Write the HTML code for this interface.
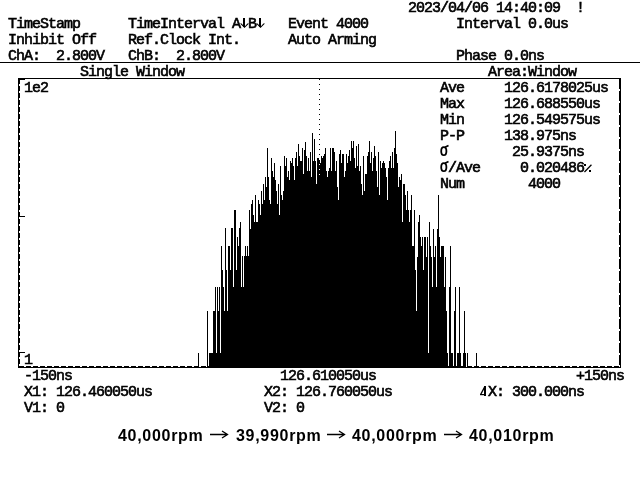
<!DOCTYPE html>
<html><head><meta charset="utf-8"><style>
html,body{margin:0;padding:0;background:#fff;width:640px;height:480px;overflow:hidden;position:relative}
.t{position:absolute;font-family:"Liberation Mono",monospace;font-weight:normal;-webkit-text-stroke:0.6px #000;will-change:transform;font-size:15px;line-height:16px;letter-spacing:-1px;white-space:pre;color:#000}
.foot{position:absolute;top:426px;font-family:"Liberation Sans",sans-serif;font-weight:bold;will-change:transform;font-size:16px;line-height:20px;letter-spacing:0.7px;white-space:pre;color:#000}
svg{position:absolute;left:0;top:0}
</style></head><body>
<svg width="640" height="480" viewBox="0 0 640 480" shape-rendering="crispEdges">
<rect x="0" y="62" width="640" height="1" fill="#000"/>
<rect x="18" y="78" width="603" height="1" fill="#000"/>
<rect x="18" y="78" width="2" height="290" fill="#000"/>
<rect x="619" y="78" width="2" height="290" fill="#000"/>
<rect x="18" y="366" width="603" height="2" fill="#000"/>
<rect x="24" y="366" width="2" height="1" fill="#fff"/><rect x="31" y="366" width="2" height="1" fill="#fff"/><rect x="38" y="366" width="2" height="1" fill="#fff"/><rect x="45" y="366" width="2" height="1" fill="#fff"/><rect x="52" y="366" width="2" height="1" fill="#fff"/><rect x="59" y="366" width="2" height="1" fill="#fff"/><rect x="66" y="366" width="2" height="1" fill="#fff"/><rect x="73" y="366" width="2" height="1" fill="#fff"/><rect x="80" y="366" width="2" height="1" fill="#fff"/><rect x="87" y="366" width="2" height="1" fill="#fff"/><rect x="94" y="366" width="2" height="1" fill="#fff"/><rect x="101" y="366" width="2" height="1" fill="#fff"/><rect x="108" y="366" width="2" height="1" fill="#fff"/><rect x="115" y="366" width="2" height="1" fill="#fff"/><rect x="122" y="366" width="2" height="1" fill="#fff"/><rect x="129" y="366" width="2" height="1" fill="#fff"/><rect x="136" y="366" width="2" height="1" fill="#fff"/><rect x="143" y="366" width="2" height="1" fill="#fff"/><rect x="150" y="366" width="2" height="1" fill="#fff"/><rect x="157" y="366" width="2" height="1" fill="#fff"/><rect x="164" y="366" width="2" height="1" fill="#fff"/><rect x="171" y="366" width="2" height="1" fill="#fff"/><rect x="178" y="366" width="2" height="1" fill="#fff"/><rect x="185" y="366" width="2" height="1" fill="#fff"/><rect x="192" y="366" width="2" height="1" fill="#fff"/><rect x="199" y="366" width="2" height="1" fill="#fff"/><rect x="206" y="366" width="2" height="1" fill="#fff"/><rect x="213" y="366" width="2" height="1" fill="#fff"/><rect x="220" y="366" width="2" height="1" fill="#fff"/><rect x="227" y="366" width="2" height="1" fill="#fff"/><rect x="234" y="366" width="2" height="1" fill="#fff"/><rect x="241" y="366" width="2" height="1" fill="#fff"/><rect x="248" y="366" width="2" height="1" fill="#fff"/><rect x="255" y="366" width="2" height="1" fill="#fff"/><rect x="262" y="366" width="2" height="1" fill="#fff"/><rect x="269" y="366" width="2" height="1" fill="#fff"/><rect x="276" y="366" width="2" height="1" fill="#fff"/><rect x="283" y="366" width="2" height="1" fill="#fff"/><rect x="290" y="366" width="2" height="1" fill="#fff"/><rect x="297" y="366" width="2" height="1" fill="#fff"/><rect x="304" y="366" width="2" height="1" fill="#fff"/><rect x="311" y="366" width="2" height="1" fill="#fff"/><rect x="318" y="366" width="2" height="1" fill="#fff"/><rect x="325" y="366" width="2" height="1" fill="#fff"/><rect x="332" y="366" width="2" height="1" fill="#fff"/><rect x="339" y="366" width="2" height="1" fill="#fff"/><rect x="346" y="366" width="2" height="1" fill="#fff"/><rect x="353" y="366" width="2" height="1" fill="#fff"/><rect x="360" y="366" width="2" height="1" fill="#fff"/><rect x="367" y="366" width="2" height="1" fill="#fff"/><rect x="374" y="366" width="2" height="1" fill="#fff"/><rect x="381" y="366" width="2" height="1" fill="#fff"/><rect x="388" y="366" width="2" height="1" fill="#fff"/><rect x="395" y="366" width="2" height="1" fill="#fff"/><rect x="402" y="366" width="2" height="1" fill="#fff"/><rect x="409" y="366" width="2" height="1" fill="#fff"/><rect x="416" y="366" width="2" height="1" fill="#fff"/><rect x="423" y="366" width="2" height="1" fill="#fff"/><rect x="430" y="366" width="2" height="1" fill="#fff"/><rect x="437" y="366" width="2" height="1" fill="#fff"/><rect x="444" y="366" width="2" height="1" fill="#fff"/><rect x="451" y="366" width="2" height="1" fill="#fff"/><rect x="458" y="366" width="2" height="1" fill="#fff"/><rect x="465" y="366" width="2" height="1" fill="#fff"/><rect x="472" y="366" width="2" height="1" fill="#fff"/><rect x="479" y="366" width="2" height="1" fill="#fff"/><rect x="486" y="366" width="2" height="1" fill="#fff"/><rect x="493" y="366" width="2" height="1" fill="#fff"/><rect x="500" y="366" width="2" height="1" fill="#fff"/><rect x="507" y="366" width="2" height="1" fill="#fff"/><rect x="514" y="366" width="2" height="1" fill="#fff"/><rect x="521" y="366" width="2" height="1" fill="#fff"/><rect x="528" y="366" width="2" height="1" fill="#fff"/><rect x="535" y="366" width="2" height="1" fill="#fff"/><rect x="542" y="366" width="2" height="1" fill="#fff"/><rect x="549" y="366" width="2" height="1" fill="#fff"/><rect x="556" y="366" width="2" height="1" fill="#fff"/><rect x="563" y="366" width="2" height="1" fill="#fff"/><rect x="570" y="366" width="2" height="1" fill="#fff"/><rect x="577" y="366" width="2" height="1" fill="#fff"/><rect x="584" y="366" width="2" height="1" fill="#fff"/><rect x="591" y="366" width="2" height="1" fill="#fff"/><rect x="598" y="366" width="2" height="1" fill="#fff"/><rect x="605" y="366" width="2" height="1" fill="#fff"/><rect x="612" y="366" width="2" height="1" fill="#fff"/><rect x="19" y="84" width="1" height="2" fill="#fff"/><rect x="19" y="91" width="1" height="2" fill="#fff"/><rect x="19" y="98" width="1" height="2" fill="#fff"/><rect x="19" y="105" width="1" height="2" fill="#fff"/><rect x="19" y="112" width="1" height="2" fill="#fff"/><rect x="19" y="119" width="1" height="2" fill="#fff"/><rect x="19" y="126" width="1" height="2" fill="#fff"/><rect x="19" y="133" width="1" height="2" fill="#fff"/><rect x="19" y="140" width="1" height="2" fill="#fff"/><rect x="19" y="147" width="1" height="2" fill="#fff"/><rect x="19" y="154" width="1" height="2" fill="#fff"/><rect x="19" y="161" width="1" height="2" fill="#fff"/><rect x="19" y="168" width="1" height="2" fill="#fff"/><rect x="19" y="175" width="1" height="2" fill="#fff"/><rect x="19" y="182" width="1" height="2" fill="#fff"/><rect x="19" y="189" width="1" height="2" fill="#fff"/><rect x="19" y="196" width="1" height="2" fill="#fff"/><rect x="19" y="203" width="1" height="2" fill="#fff"/><rect x="19" y="210" width="1" height="2" fill="#fff"/><rect x="19" y="217" width="1" height="2" fill="#fff"/><rect x="19" y="224" width="1" height="2" fill="#fff"/><rect x="19" y="231" width="1" height="2" fill="#fff"/><rect x="19" y="238" width="1" height="2" fill="#fff"/><rect x="19" y="245" width="1" height="2" fill="#fff"/><rect x="19" y="252" width="1" height="2" fill="#fff"/><rect x="19" y="259" width="1" height="2" fill="#fff"/><rect x="19" y="266" width="1" height="2" fill="#fff"/><rect x="19" y="273" width="1" height="2" fill="#fff"/><rect x="19" y="280" width="1" height="2" fill="#fff"/><rect x="19" y="287" width="1" height="2" fill="#fff"/><rect x="19" y="294" width="1" height="2" fill="#fff"/><rect x="19" y="301" width="1" height="2" fill="#fff"/><rect x="19" y="308" width="1" height="2" fill="#fff"/><rect x="19" y="315" width="1" height="2" fill="#fff"/><rect x="19" y="322" width="1" height="2" fill="#fff"/><rect x="19" y="329" width="1" height="2" fill="#fff"/><rect x="19" y="336" width="1" height="2" fill="#fff"/><rect x="19" y="343" width="1" height="2" fill="#fff"/><rect x="19" y="350" width="1" height="2" fill="#fff"/><rect x="19" y="357" width="1" height="2" fill="#fff"/><rect x="19" y="364" width="1" height="2" fill="#fff"/><rect x="619" y="89" width="1" height="2" fill="#fff"/><rect x="619" y="101" width="1" height="2" fill="#fff"/><rect x="619" y="113" width="1" height="2" fill="#fff"/><rect x="619" y="125" width="1" height="2" fill="#fff"/><rect x="619" y="137" width="1" height="2" fill="#fff"/><rect x="619" y="149" width="1" height="2" fill="#fff"/><rect x="619" y="161" width="1" height="2" fill="#fff"/><rect x="619" y="173" width="1" height="2" fill="#fff"/><rect x="619" y="185" width="1" height="2" fill="#fff"/><rect x="619" y="197" width="1" height="2" fill="#fff"/><rect x="619" y="209" width="1" height="2" fill="#fff"/><rect x="619" y="221" width="1" height="2" fill="#fff"/><rect x="619" y="233" width="1" height="2" fill="#fff"/><rect x="619" y="245" width="1" height="2" fill="#fff"/><rect x="619" y="257" width="1" height="2" fill="#fff"/><rect x="619" y="269" width="1" height="2" fill="#fff"/><rect x="619" y="281" width="1" height="2" fill="#fff"/><rect x="619" y="293" width="1" height="2" fill="#fff"/><rect x="619" y="305" width="1" height="2" fill="#fff"/><rect x="619" y="317" width="1" height="2" fill="#fff"/><rect x="619" y="329" width="1" height="2" fill="#fff"/><rect x="619" y="341" width="1" height="2" fill="#fff"/><rect x="619" y="353" width="1" height="2" fill="#fff"/><rect x="619" y="365" width="1" height="2" fill="#fff"/><rect x="20" y="79" width="5" height="1" fill="#000"/><rect x="20" y="216" width="5" height="1" fill="#000"/><rect x="20" y="352" width="5" height="1" fill="#000"/>
<path d="M198 353h1V367h-1zM207 311h1V367h-1zM209 353h1V367h-1zM210 353h1V367h-1zM211 353h1V367h-1zM212 353h1V367h-1zM213 311h1V367h-1zM214 311h1V367h-1zM215 287h1V367h-1zM216 353h1V367h-1zM217 287h1V367h-1zM218 311h1V367h-1zM219 287h1V367h-1zM220 353h1V367h-1zM221 246h1V367h-1zM222 270h1V367h-1zM223 287h1V367h-1zM224 311h1V367h-1zM225 228h1V367h-1zM226 270h1V367h-1zM227 311h1V367h-1zM228 246h1V367h-1zM229 246h1V367h-1zM230 270h1V367h-1zM231 228h1V367h-1zM232 228h1V367h-1zM233 287h1V367h-1zM234 210h1V367h-1zM235 210h1V367h-1zM236 270h1V367h-1zM237 237h1V367h-1zM238 246h1V367h-1zM239 228h1V367h-1zM240 222h1V367h-1zM241 287h1V367h-1zM242 256h1V367h-1zM243 287h1V367h-1zM244 256h1V367h-1zM245 246h1V367h-1zM246 256h1V367h-1zM247 246h1V367h-1zM248 256h1V367h-1zM249 210h1V367h-1zM250 229h1V367h-1zM251 204h1V367h-1zM252 200h1V367h-1zM253 215h1V367h-1zM254 222h1V367h-1zM255 195h1V367h-1zM256 222h1V367h-1zM257 222h1V367h-1zM258 200h1V367h-1zM259 204h1V367h-1zM260 215h1V367h-1zM261 191h1V367h-1zM262 204h1V367h-1zM263 184h1V367h-1zM264 200h1V367h-1zM265 177h1V367h-1zM266 187h1V367h-1zM267 148h1V367h-1zM268 177h1V367h-1zM269 200h1V367h-1zM270 204h1V367h-1zM271 158h1V367h-1zM272 171h1V367h-1zM273 177h1V367h-1zM274 163h1V367h-1zM275 180h1V367h-1zM276 191h1V367h-1zM277 204h1V367h-1zM278 184h1V367h-1zM279 215h1V367h-1zM280 166h1V367h-1zM281 195h1V367h-1zM282 200h1V367h-1zM283 191h1V367h-1zM284 156h1V367h-1zM285 166h1V367h-1zM286 158h1V367h-1zM287 177h1V367h-1zM288 171h1V367h-1zM289 180h1V367h-1zM290 161h1V367h-1zM291 163h1V367h-1zM292 158h1V367h-1zM293 166h1V367h-1zM294 180h1V367h-1zM295 158h1V367h-1zM296 152h1V367h-1zM297 166h1V367h-1zM298 144h1V367h-1zM299 156h1V367h-1zM300 161h1V367h-1zM301 161h1V367h-1zM302 148h1V367h-1zM303 174h1V367h-1zM304 150h1V367h-1zM305 142h1V367h-1zM306 156h1V367h-1zM307 171h1V367h-1zM308 158h1V367h-1zM309 171h1V367h-1zM310 152h1V367h-1zM311 177h1V367h-1zM312 133h1V367h-1zM313 161h1V367h-1zM314 139h1V367h-1zM315 161h1V367h-1zM316 184h1V367h-1zM317 158h1V367h-1zM318 158h1V367h-1zM319 159h1V367h-1zM320 163h1V367h-1zM321 156h1V367h-1zM322 158h1V367h-1zM323 156h1V367h-1zM324 154h1V367h-1zM325 148h1V367h-1zM326 171h1V367h-1zM327 177h1V367h-1zM328 171h1V367h-1zM329 168h1V367h-1zM330 148h1V367h-1zM331 171h1V367h-1zM332 148h1V367h-1zM333 148h1V367h-1zM334 152h1V367h-1zM335 171h1V367h-1zM336 161h1V367h-1zM337 187h1V367h-1zM338 200h1V367h-1zM339 154h1V367h-1zM340 150h1V367h-1zM341 163h1V367h-1zM342 154h1V367h-1zM343 154h1V367h-1zM344 177h1V367h-1zM345 171h1V367h-1zM346 154h1V367h-1zM347 163h1V367h-1zM348 156h1V367h-1zM349 150h1V367h-1zM350 161h1V367h-1zM351 141h1V367h-1zM352 148h1V367h-1zM353 141h1V367h-1zM354 158h1V367h-1zM355 168h1V367h-1zM356 146h1V367h-1zM357 166h1V367h-1zM358 144h1V367h-1zM359 171h1V367h-1zM360 166h1V367h-1zM361 184h1V367h-1zM362 195h1V367h-1zM363 156h1V367h-1zM364 191h1V367h-1zM365 174h1V367h-1zM366 174h1V367h-1zM367 156h1V367h-1zM368 152h1V367h-1zM369 141h1V367h-1zM370 163h1V367h-1zM371 152h1V367h-1zM372 171h1V367h-1zM373 158h1V367h-1zM374 146h1V367h-1zM375 156h1V367h-1zM376 171h1V367h-1zM377 187h1V367h-1zM378 152h1V367h-1zM379 195h1V367h-1zM380 161h1V367h-1zM381 168h1V367h-1zM382 163h1V367h-1zM383 161h1V367h-1zM384 163h1V367h-1zM385 168h1V367h-1zM386 177h1V367h-1zM387 200h1V367h-1zM388 168h1V367h-1zM389 161h1V367h-1zM390 156h1V367h-1zM391 168h1V367h-1zM392 152h1V367h-1zM393 168h1V367h-1zM394 148h1V367h-1zM395 131h1V367h-1zM396 154h1V367h-1zM397 163h1V367h-1zM398 187h1V367h-1zM399 177h1V367h-1zM400 180h1V367h-1zM401 174h1V367h-1zM402 222h1V367h-1zM403 184h1V367h-1zM404 184h1V367h-1zM405 195h1V367h-1zM406 210h1V367h-1zM407 191h1V367h-1zM408 210h1V367h-1zM409 222h1V367h-1zM410 210h1V367h-1zM411 195h1V367h-1zM412 246h1V367h-1zM413 246h1V367h-1zM414 210h1V367h-1zM415 270h1V367h-1zM416 311h1V367h-1zM417 257h1V367h-1zM418 222h1V367h-1zM419 215h1V367h-1zM420 237h1V367h-1zM421 246h1V367h-1zM422 237h1V367h-1zM423 270h1V367h-1zM424 237h1V367h-1zM425 237h1V367h-1zM426 257h1V367h-1zM427 237h1V367h-1zM428 353h1V367h-1zM429 222h1V367h-1zM430 246h1V367h-1zM431 257h1V367h-1zM432 287h1V367h-1zM433 229h1V367h-1zM434 257h1V367h-1zM435 246h1V367h-1zM436 287h1V367h-1zM437 229h1V367h-1zM438 195h1V367h-1zM439 237h1V367h-1zM440 257h1V367h-1zM441 246h1V367h-1zM442 246h1V367h-1zM443 246h1V367h-1zM444 287h1V367h-1zM445 257h1V367h-1zM446 311h1V367h-1zM447 353h1V367h-1zM449 287h1V367h-1zM450 246h1V367h-1zM451 353h1V367h-1zM452 353h1V367h-1zM454 311h1V367h-1zM455 287h1V367h-1zM457 353h1V367h-1zM458 353h1V367h-1zM459 287h1V367h-1zM460 353h1V367h-1zM463 353h1V367h-1zM464 311h1V367h-1zM465 353h1V367h-1zM467 353h1V367h-1zM476 353h1V367h-1z" fill="#000"/><rect x="319" y="79" width="1" height="1" fill="#000"/><rect x="319" y="84" width="1" height="1" fill="#000"/><rect x="319" y="89" width="1" height="1" fill="#000"/><rect x="319" y="94" width="1" height="1" fill="#000"/><rect x="319" y="99" width="1" height="1" fill="#000"/><rect x="319" y="104" width="1" height="1" fill="#000"/><rect x="319" y="109" width="1" height="1" fill="#000"/><rect x="319" y="114" width="1" height="1" fill="#000"/><rect x="319" y="119" width="1" height="1" fill="#000"/><rect x="319" y="124" width="1" height="1" fill="#000"/><rect x="319" y="129" width="1" height="1" fill="#000"/><rect x="319" y="134" width="1" height="1" fill="#000"/><rect x="319" y="139" width="1" height="1" fill="#000"/><rect x="319" y="144" width="1" height="1" fill="#000"/><rect x="319" y="149" width="1" height="1" fill="#000"/><rect x="319" y="154" width="1" height="1" fill="#000"/><rect x="319" y="159" width="1" height="1" fill="#fff"/><rect x="319" y="164" width="1" height="1" fill="#fff"/><rect x="319" y="169" width="1" height="1" fill="#fff"/><rect x="319" y="174" width="1" height="1" fill="#fff"/>
</svg>
<div class="t" style="left:408px;top:1px">2023/04/06 14:40:09  !</div><div class="t" style="left:8px;top:17px">TimeStamp</div><div class="t" style="left:128px;top:17px">TimeInterval A B</div><div class="t" style="left:288px;top:17px">Event 4000</div><div class="t" style="left:456px;top:17px">Interval 0.0us</div><div class="t" style="left:8px;top:33px">Inhibit Off</div><div class="t" style="left:128px;top:33px">Ref.Clock Int.</div><div class="t" style="left:288px;top:33px">Auto Arming</div><div class="t" style="left:8px;top:49px">ChA:  2.800V</div><div class="t" style="left:128px;top:49px">ChB:  2.800V</div><div class="t" style="left:456px;top:49px">Phase 0.0ns</div><div class="t" style="left:80px;top:65px">Single Window</div><div class="t" style="left:488px;top:65px">Area:Window</div><div class="t" style="left:24px;top:81px">1e2</div><div class="t" style="left:440px;top:81px">Ave     126.6178025us</div><div class="t" style="left:440px;top:97px">Max     126.688550us</div><div class="t" style="left:440px;top:113px">Min     126.549575us</div><div class="t" style="left:440px;top:129px">P-P     138.975ns</div><div class="t" style="left:440px;top:145px">         25.9375ns</div><div class="t" style="left:440px;top:161px"> /Ave     0.020486</div><div class="t" style="left:440px;top:177px">Num        4000</div><div class="t" style="left:24px;top:353px">1</div><div class="t" style="left:24px;top:369px">-150ns</div><div class="t" style="left:280px;top:369px">126.610050us</div><div class="t" style="left:576px;top:369px">+150ns</div><div class="t" style="left:24px;top:385px">X1: 126.460050us</div><div class="t" style="left:264px;top:385px">X2: 126.760050us</div><div class="t" style="left:480px;top:385px"> X: 300.000ns</div><div class="t" style="left:24px;top:401px">V1: 0</div><div class="t" style="left:264px;top:401px">V2: 0</div>
<svg width="640" height="480" style="position:absolute;left:0;top:0" shape-rendering="geometricPrecision">
<g fill="#000">
<rect x="243" y="18" width="2" height="9"/><path d="M240 23.5h1.6l2.9 3.2 2.9-3.2h1.6l-4.5 4.5z"/>
<rect x="259" y="18" width="2" height="9"/><path d="M256 23.5h1.6l2.9 3.2 2.9-3.2h1.6l-4.5 4.5z"/>
<rect x="484" y="386" width="2" height="10"/><rect x="480" y="394" width="5" height="1.2"/><path d="M480 394.2l4-7.4 0.9 1.2-3.4 6.2z"/>
<rect x="584" y="164" width="2" height="2"/><rect x="589" y="170" width="2" height="2"/><path d="M584 171.5l7-7.2 0.9 0.9-7 7.2z"/>
</g>
<g fill="none" stroke="#000">
<ellipse cx="443.8" cy="151.2" rx="2.6" ry="4" stroke-width="1.8"/><path d="M445 147.2L448.5 145.5" stroke-width="1.8"/>
<ellipse cx="443.8" cy="167.2" rx="2.6" ry="4" stroke-width="1.8"/><path d="M445 163.2L448.5 161.5" stroke-width="1.8"/>
</g>
</svg>
<div class="foot" style="left:118px">40,000rpm</div><div class="foot" style="left:236px">39,990rpm</div><div class="foot" style="left:352px">40,000rpm</div><div class="foot" style="left:469px">40,010rpm</div>
<svg width="640" height="480" style="position:absolute;left:0;top:0"><g stroke="#000" stroke-width="1.3" fill="none"><path d="M210 434.5H227.5M222 431L227.5 434.5L222 438"/><path d="M327 434.5H344.5M339 431L344.5 434.5L339 438"/><path d="M444 434.5H461.5M456 431L461.5 434.5L456 438"/></g></svg>
</body></html>
